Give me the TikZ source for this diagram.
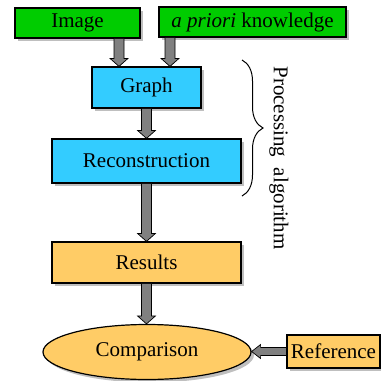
\documentclass[tikz,border=0pt]{standalone}
\usepackage{fontspec}
\setmainfont{Liberation Serif}
\usetikzlibrary{calc,shadows,shapes.geometric,decorations.pathreplacing}
\definecolor{gbox}{RGB}{0,204,0}
\definecolor{cbox}{RGB}{51,204,255}
\definecolor{obox}{RGB}{255,204,102}
\tikzset{
  base/.style={draw=black, line width=1.2pt, inner sep=0pt, font=\rmfamily\fontsize{21}{24}\selectfont,
    drop shadow={shadow xshift=3pt, shadow yshift=-3pt, fill=black!25, opacity=1}},
  greenbox/.style={base, fill=gbox, rectangle},
  bluebox/.style={base, fill=cbox, rectangle},
  orangebox/.style={base, fill=obox, rectangle},
  fatarrow/.style={draw=black, line width=0.7pt, fill=gray},
}
\newcommand\varrow[2]{\path[fatarrow] let \p1=#1, \p2=#2 in
  (\x1-5pt,\y1) -- (\x1+5pt,\y1) -- (\x1+5pt,\y2+8pt) -- (\x1+9pt,\y2+8pt) -- (\x1,\y2)
  -- (\x1-9pt,\y2+8pt) -- (\x1-5pt,\y2+8pt) -- cycle;}
\newcommand\harrow[2]{\path[fatarrow] let \p1=#1, \p2=#2 in
  (\x1,\y1-4pt) -- (\x1,\y1+4pt) -- (\x2+9pt,\y1+4pt) -- (\x2+9pt,\y1+7pt) -- (\x2,\y1)
  -- (\x2+9pt,\y1-7pt) -- (\x2+9pt,\y1-4pt) -- cycle;}
\begin{document}
\begin{tikzpicture}[x=1pt,y=-1pt]
\useasboundingbox (0,0) rectangle (381,381);
\node[greenbox, minimum width=125pt, minimum height=30pt] (img) at (77.5,23) {Image};
\node[greenbox, minimum width=187pt, minimum height=30pt] (apr) at (252.5,22) {\textit{a priori} knowledge};
\node[bluebox, minimum width=109pt, minimum height=41pt] (graph) at (146.5,87.5) {Graph};
\node[bluebox, minimum width=189pt, minimum height=44pt] (rec) at (146.5,161) {Reconstruction};
\node[orangebox, minimum width=189pt, minimum height=41pt] (res) at (146.5,262.5) {Results};
\node[base, ellipse, fill=obox, minimum width=208pt, minimum height=55pt] (cmp) at (147,352) {Comparison};
\node[orangebox, minimum width=93pt, minimum height=33pt] (ref) at (333.5,351.5) {Reference};
\coordinate (a1) at (119,38);
\coordinate (a2) at (170,37);
\varrow{(a1 |- img.south)}{(a1 |- graph.north)}
\varrow{(a2 |- apr.south)}{(a2 |- graph.north)}
\varrow{(graph.south)}{(rec.north)}
\varrow{(rec.south)}{(res.north)}
\varrow{(res.south)}{(cmp.north)}
\harrow{(ref.west)}{(cmp.east)}
\coordinate (bt) at (242,60);
\coordinate (bb) at (242,196);
\draw[line width=1pt, decorate, decoration={brace, amplitude=21pt}] (bt) -- (bb);
\node[rotate=-90, font=\rmfamily\fontsize{21}{24}\selectfont, inner sep=0pt] (pa) at (279,158) {Processing\hspace{0.25em} algorithm};
\end{tikzpicture}
\end{document}
